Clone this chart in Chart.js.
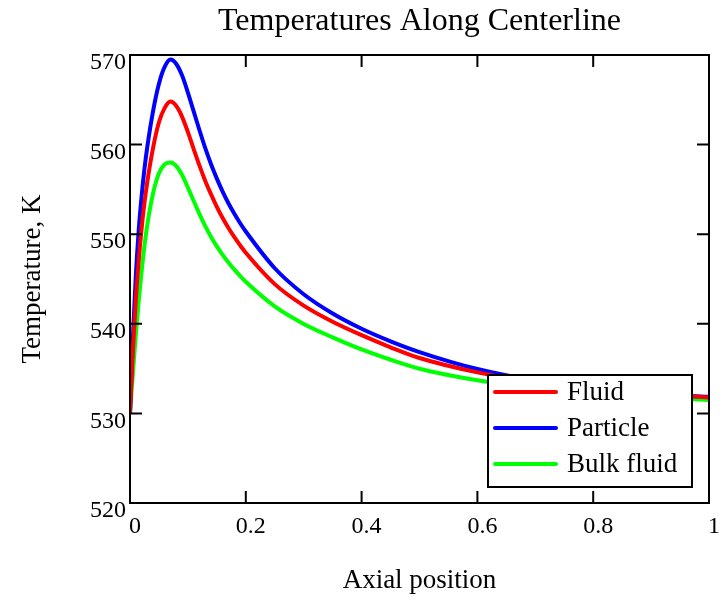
<!DOCTYPE html>
<html>
<head>
<meta charset="utf-8">
<script src="https://cdn.jsdelivr.net/npm/chart.js@4/dist/chart.umd.min.js"></script>
<style>
  html, body { margin: 0; padding: 0; background: #fff; }
  canvas { display: block; }
</style>
</head>
<body>
<canvas id="chart" width="724" height="601"></canvas>
<script>
// axial position (0..1) and the three temperature profiles, K
var xPos = [0, 0.005, 0.01, 0.015, 0.02, 0.025, 0.03, 0.04, 0.05, 0.06, 0.07,
    0.08, 0.09, 0.1, 0.11, 0.12, 0.13, 0.14, 0.15, 0.16, 0.17, 0.18, 0.19, 0.2,
    0.25, 0.3, 0.35, 0.4, 0.45, 0.5, 0.6, 0.7, 0.8, 0.9, 1.0];
var fluid = [530, 537.0, 542.6, 547.0, 550.6, 553.5, 555.9, 559.7, 562.5, 564.1, 564.8,
    564.3, 563.1, 561.4, 559.5, 557.65, 555.95, 554.45, 553.05, 551.8, 550.7, 549.7, 548.78, 547.93,
    544.43, 542.03, 540.23, 538.73, 537.38, 536.18, 534.58, 533.48, 532.68, 532.18, 531.78];
var particle = [530, 538.5, 545.3, 550.4, 554.2, 557.3, 559.8, 563.8, 566.8, 568.7, 569.5,
    569.0, 567.7, 565.8, 563.7, 561.6, 559.6, 557.8, 556.2, 554.75, 553.45, 552.3, 551.25, 550.3,
    546.2, 543.3, 541.15, 539.45, 538.05, 536.85, 534.95, 533.65, 532.75, 532.15, 531.85];
var bulkFluid = [530, 534.5, 538.7, 542.5, 545.8, 548.7, 551.1, 554.6, 556.8, 557.8, 558.0,
    557.6, 556.6, 555.2, 553.7, 552.25, 550.9, 549.7, 548.65, 547.7, 546.85, 546.07, 545.35, 544.69,
    541.94, 539.99, 538.49, 537.14, 535.99, 534.99, 533.7, 532.8, 532.2, 531.8, 531.5];

var seriesNames = ["Fluid", "Particle", "Bulk fluid"];
var xTicks = [0, 0.2, 0.4, 0.6, 0.8, 1];
var yTicks = [520, 530, 540, 550, 560, 570];

var serif = "'Liberation Serif', 'Times New Roman', serif";
Chart.defaults.color = "#000";
Chart.defaults.font.family = serif;

function points(ys) {
    return xPos.map(function (x, i) { return { x: x, y: ys[i] }; });
}

function line(label, ys, color) {
    return {
        label: label,
        data: points(ys),
        borderColor: color,
        backgroundColor: color,
        borderWidth: 4,
        pointRadius: 0,
        cubicInterpolationMode: "monotone",
        fill: false
    };
}

// frame with inward ticks on all four sides, plus the boxed legend
var framePlugin = {
    id: "frame",
    afterDatasetsDraw: function (chart) {
        var ctx = chart.ctx;
        var a = chart.chartArea;
        var sx = chart.scales.x, sy = chart.scales.y;
        var tl = 12;
        ctx.save();
        ctx.strokeStyle = "#000";
        ctx.lineWidth = 2;
        ctx.strokeRect(a.left, a.top, a.right - a.left, a.bottom - a.top);
        ctx.beginPath();
        xTicks.forEach(function (v) {
            var px = sx.getPixelForValue(v);
            ctx.moveTo(px, a.bottom); ctx.lineTo(px, a.bottom - tl);
            ctx.moveTo(px, a.top); ctx.lineTo(px, a.top + tl);
        });
        yTicks.forEach(function (v) {
            var py = sy.getPixelForValue(v);
            ctx.moveTo(a.left, py); ctx.lineTo(a.left + tl, py);
            ctx.moveTo(a.right, py); ctx.lineTo(a.right - tl, py);
        });
        ctx.stroke();

        // legend
        var bw = 204, bh = 112;
        var bx = a.right - 17 - bw, by = a.bottom - 16 - bh;
        ctx.fillStyle = "#fff";
        ctx.fillRect(bx, by, bw, bh);
        ctx.strokeRect(bx, by, bw, bh);
        ctx.font = "27px " + serif;
        ctx.textBaseline = "middle";
        ctx.textAlign = "left";
        chart.data.datasets.forEach(function (ds, i) {
            var ry = by + 17 + i * 36;
            ctx.strokeStyle = ds.borderColor;
            ctx.lineWidth = 4;
            ctx.lineCap = "round";
            ctx.beginPath();
            ctx.moveTo(bx + 7, ry);
            ctx.lineTo(bx + 68, ry);
            ctx.stroke();
            ctx.fillStyle = "#000";
            ctx.fillText(ds.label, bx + 79, ry + 1);
        });
        ctx.restore();
    }
};

new Chart(document.getElementById("chart"), {
    type: "line",
    data: {
        datasets: [
            line(seriesNames[0], fluid, "#ff0000"),
            line(seriesNames[1], particle, "#0000ff"),
            line(seriesNames[2], bulkFluid, "#00ff00")
        ]
    },
    options: {
        responsive: false,
        animation: false,
        devicePixelRatio: 1,
        layout: { padding: { left: 0, right: 14, top: 0, bottom: 0 } },
        plugins: {
            legend: { display: false },
            tooltip: { enabled: false },
            title: {
                display: true,
                fullSize: false,
                text: "Temperatures Along Centerline",
                font: { size: 32, weight: "normal", family: serif },
                color: "#000",
                padding: { top: 2, bottom: 14.6 }
            }
        },
        scales: {
            x: {
                type: "linear",
                min: 0,
                max: 1,
                afterBuildTicks: function (s) { s.ticks = xTicks.map(function (v) { return { value: v }; }); },
                afterFit: function (s) { s.height = 98; },
                ticks: {
                    font: { size: 24 },
                    padding: 9,
                    labelOffset: 5,
                    maxRotation: 0,
                    callback: function (v) { return String(v); }
                },
                grid: { display: false, drawTicks: false },
                border: { display: false },
                title: {
                    display: true,
                    text: "Axial position",
                    font: { size: 27 },
                    padding: { top: 0, bottom: 4 }
                }
            },
            y: {
                type: "linear",
                min: 520,
                max: 570,
                afterBuildTicks: function (s) { s.ticks = yTicks.map(function (v) { return { value: v }; }); },
                afterFit: function (s) { s.width = 130; },
                ticks: {
                    font: { size: 24 },
                    padding: 4,
                    labelOffset: 8,
                    callback: function (v) { return String(v); }
                },
                grid: { display: false, drawTicks: false },
                border: { display: false },
                title: {
                    display: true,
                    text: "Temperature, K",
                    font: { size: 27 },
                    padding: { top: 17, bottom: 0 }
                }
            }
        }
    },
    plugins: [framePlugin]
});
</script>
</body>
</html>
